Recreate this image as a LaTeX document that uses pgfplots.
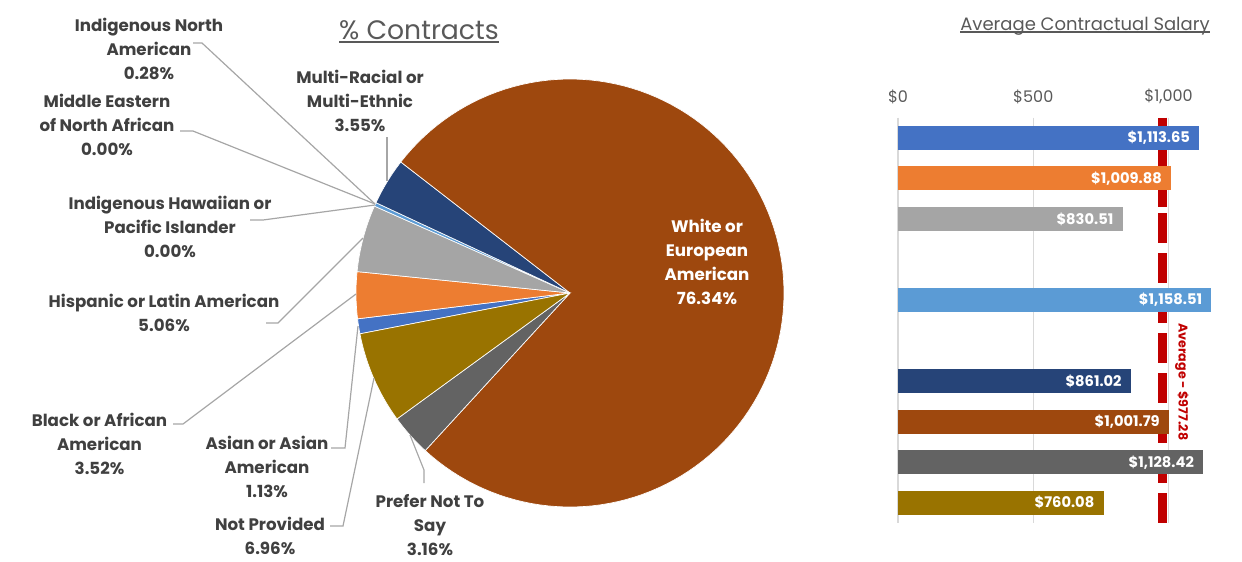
\documentclass[border=0pt]{standalone}
\usepackage{pgfplots}
\pgfplotsset{compat=1.18}
\usepackage{fontspec}
\setmainfont{Poppins}

\definecolor{cAsian}{HTML}{4472C4}
\definecolor{cBlack}{HTML}{ED7D31}
\definecolor{cHisp}{HTML}{A5A5A5}
\definecolor{cHawaii}{HTML}{FFC000}
\definecolor{cIndNA}{HTML}{5B9BD5}
\definecolor{cME}{HTML}{70AD47}
\definecolor{cMulti}{HTML}{264478}
\definecolor{cWhite}{HTML}{9E480E}
\definecolor{cPrefer}{HTML}{636363}
\definecolor{cNotProv}{HTML}{997300}
\definecolor{lbl}{HTML}{404040}
\definecolor{ttl}{HTML}{595959}
\definecolor{leader}{HTML}{A6A6A6}
\definecolor{gridc}{HTML}{D9D9D9}
\definecolor{avg}{HTML}{C00000}

\newcommand\ulined[1]{\setbox0\hbox{#1}\leavevmode\rlap{\raisebox{-0.13em}{\rule{\wd0}{0.07em}}}\box0}

% pie slice: percentage, colour; runs clockwise from \aStart (degrees)
\def\aStart{191}
\newcommand\pieslice[2]{%
  \ifdim #1pt>0pt
    \pgfmathsetmacro\aEnd{\aStart-#1*3.6}%
    \edef\doslice{\noexpand\addplot[draw=white, line width=0.5pt, fill=#2, domain=\aEnd:\aStart, samples=120] ({214*cos(x)},{214*sin(x)}) -- (axis cs:0,0) -- cycle;}%
    \doslice
    \xdef\aStart{\aEnd}%
  \fi}

\tikzset{
  pielbl/.style={align=center, text=lbl, font=\bfseries\fontsize{12.5}{18}\selectfont},
  barlbl/.style={anchor=east, text=white, xshift=-3.5pt, font=\bfseries\fontsize{11}{13}\selectfont},
  lead/.style={leader, line width=0.9pt},
}

\begin{document}
\begin{tikzpicture}
\path[use as bounding box] (0pt,0pt) rectangle (931.5pt,-420.75pt);

% ---------------- Pie: % Contracts ----------------
\begin{axis}[
  at={(0pt,0pt)}, anchor=north west,
  width=931.5pt, height=420.75pt, scale only axis,
  xmin=-570, xmax=672, ymin=-268, ymax=293,
  hide axis, clip=false,
]
\pieslice{1.13}{cAsian}
\pieslice{3.52}{cBlack}
\pieslice{5.06}{cHisp}
\pieslice{0.00}{cHawaii}
\pieslice{0.28}{cIndNA}
\pieslice{0.00}{cME}
\pieslice{3.55}{cMulti}
\pieslice{76.34}{cWhite}
\pieslice{3.16}{cPrefer}
\pieslice{6.96}{cNotProv}

% leader lines
\addplot[lead] coordinates {(-377,250) (-368,250) (-195,89)};
\addplot[lead] coordinates {(-390,162) (-377,162) (-195,89)};
\addplot[lead] coordinates {(-183,156) (-183,112)};
\addplot[lead] coordinates {(-320,73) (-307,73) (-195,88)};
\addplot[lead] coordinates {(-304,-30) (-292,-30) (-207,55)};
\addplot[lead] coordinates {(-397,-131) (-387,-131) (-214,-1)};
\addplot[lead] coordinates {(-239,-155) (-225,-155) (-212,-33)};
\addplot[lead] coordinates {(-240,-233) (-227,-233) (-196,-85)};
\addplot[lead] coordinates {(-146,-190) (-146,-177) (-160,-142)};

% labels
\node[pielbl] at (axis cs:-421,244) {Indigenous North\\American\\0.28\%};
\node[pielbl] at (axis cs:-463,168) {Middle Eastern\\of North African\\0.00\%};
\node[pielbl] at (axis cs:-210,192) {Multi-Racial or\\Multi-Ethnic\\3.55\%};
\node[pielbl] at (axis cs:-400,66) {Indigenous Hawaiian or\\Pacific Islander\\0.00\%};
\node[pielbl] at (axis cs:-406,-20) {Hispanic or Latin American\\5.06\%};
\node[pielbl] at (axis cs:-470.5,-151) {Black or African\\American\\3.52\%};
\node[pielbl] at (axis cs:-303,-174) {Asian or Asian\\American\\1.13\%};
\node[pielbl] at (axis cs:-300,-243) {Not Provided\\6.96\%};
\node[pielbl] at (axis cs:-140,-232) {Prefer Not To\\Say\\3.16\%};
\node[pielbl, text=white] at (axis cs:137,31) {White or\\European\\American\\76.34\%};

% titles
\node[text=ttl, font=\fontsize{20}{24}\selectfont] at (axis cs:-151,261) {\ulined{\% Contracts}};
\node[text=ttl, font=\fontsize{13.5}{16}\selectfont] at (axis cs:515,267) {\ulined{Average Contractual Salary}};
\end{axis}

% ---------------- Bars: Average Contractual Salary ----------------
\begin{axis}[
  at={(673.5pt,-88.125pt)}, anchor=north west,
  width=243.5pt, height=304.1pt, scale only axis,
  xmin=0, xmax=1200, ymin=0.5, ymax=10.5, y dir=reverse,
  axis line style={draw=none},
  xtick={0,500,1000}, xticklabels={\$0,\$500,{\$1,000}},
  xticklabel pos=upper,
  ytick=\empty,
  major tick length=0pt,
  xmajorgrids, grid style={gridc, line width=1.1pt},
  xticklabel style={text=ttl, font=\fontsize{12}{14}\selectfont, yshift=7pt},
  clip=false,
  bars/.style={xbar, bar width=18pt, bar shift=0pt, draw=none},
]
% average line first, so that the bars cover it
\addplot[avg, line width=6.75pt] coordinates {(977.28,0.5) (977.28,2.71)};
\addplot[avg, line width=6.75pt, dash pattern=on 22.5pt off 7.5pt] coordinates {(977.28,10.5) (977.28,0.5)};

\addplot[bars, fill=cAsian]   coordinates {(1113.65,1)};
\addplot[bars, fill=cBlack]   coordinates {(1009.88,2)};
\addplot[bars, fill=cHisp]    coordinates {(830.51,3)};
\addplot[bars, fill=cIndNA]   coordinates {(1158.51,5)};
\addplot[bars, fill=cMulti]   coordinates {(861.02,7)};
\addplot[bars, fill=cWhite]   coordinates {(1001.79,8)};
\addplot[bars, fill=cPrefer]  coordinates {(1128.42,9)};
\addplot[bars, fill=cNotProv] coordinates {(760.08,10)};

\node[barlbl] at (axis cs:1113.65,1) {\$1,113.65};
\node[barlbl] at (axis cs:1009.88,2) {\$1,009.88};
\node[barlbl] at (axis cs:830.51,3) {\$830.51};
\node[barlbl] at (axis cs:1158.51,5) {\$1,158.51};
\node[barlbl] at (axis cs:861.02,7) {\$861.02};
\node[barlbl] at (axis cs:1001.79,8) {\$1,001.79};
\node[barlbl] at (axis cs:1128.42,9) {\$1,128.42};
\node[barlbl] at (axis cs:760.08,10) {\$760.08};

\node[rotate=-90, text=avg, font=\bfseries\fontsize{9.5}{11}\selectfont] at (axis cs:1049.5,7.02) {Average - \$977.28};
\end{axis}
\end{tikzpicture}
\end{document}
